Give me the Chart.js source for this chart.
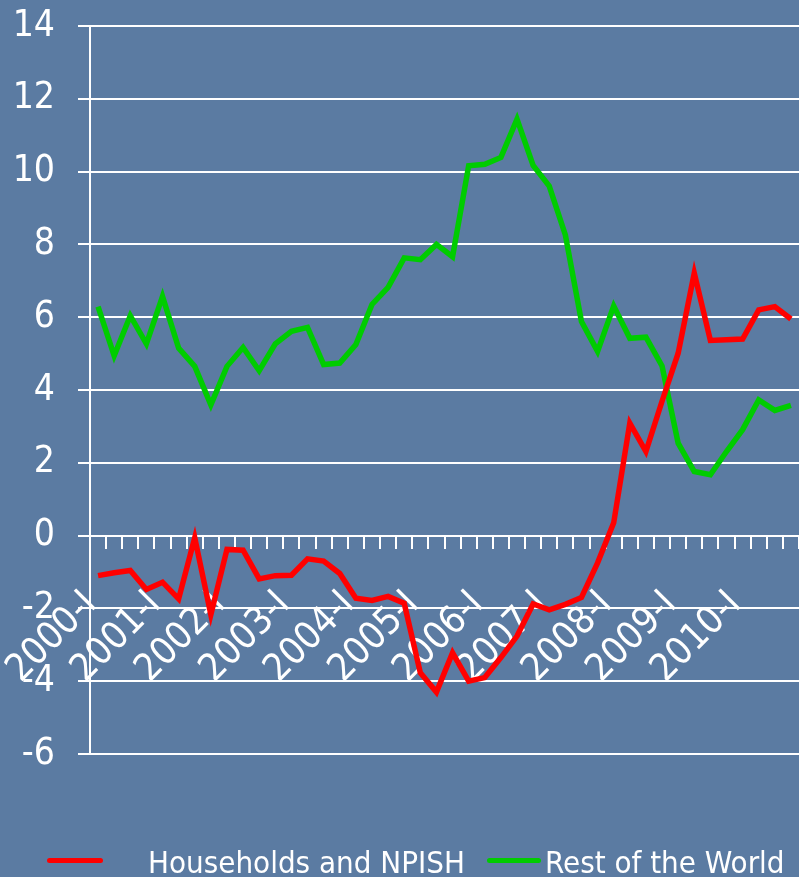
<!DOCTYPE html>
<html>
<head>
<meta charset="utf-8">
<script src="https://cdn.jsdelivr.net/npm/chart.js@4.4.0/dist/chart.umd.min.js"></script>
<style>
  html, body { margin: 0; padding: 0; }
  body {
    width: 799px; height: 877px; overflow: hidden; position: relative;
    background: #5b7ba2;
    font-family: "DejaVu Sans Condensed", "DejaVu Sans", sans-serif;
  }
  #chart { position: absolute; left: 0; top: 0; }
  .key { position: absolute; top: 858px; height: 5px; border-radius: 3px; }
  .keyText { position: absolute; top: 847px; color: #fff; font-size: 31px; line-height: 31px; white-space: nowrap; }
</style>
</head>
<body>
<canvas id="chart" width="799" height="877"></canvas>
<div id="legend"></div>
<script>
// Kategori: kuartal 2000-I .. 2010-IV
const years = ["2000", "2001", "2002", "2003", "2004", "2005", "2006", "2007", "2008", "2009", "2010"];
const quarterNames = ["I", "II", "III", "IV"];
const quarters = [];
years.forEach(y => quarterNames.forEach(q => quarters.push(y + "-" + q)));

// Data seri
const households = [
  -1.10, -1.02, -0.96, -1.48, -1.28, -1.74, -0.06, -2.17,
  -0.38, -0.40, -1.19, -1.10, -1.09, -0.64, -0.70, -1.04,
  -1.72, -1.78, -1.67, -1.86, -3.77, -4.30, -3.22, -4.00,
  -3.90, -3.35, -2.76, -1.88, -2.04, -1.89, -1.70, -0.75,
  0.35, 3.09, 2.31, 3.69, 5.01, 7.21, 5.36, 5.38,
  5.40, 6.20, 6.29, 5.95
];
const restOfWorld = [
  6.29, 4.94, 6.04, 5.27, 6.57, 5.15, 4.65, 3.59,
  4.65, 5.17, 4.53, 5.27, 5.61, 5.72, 4.70, 4.74,
  5.25, 6.35, 6.82, 7.63, 7.58, 8.00, 7.66, 10.16,
  10.20, 10.39, 11.44, 10.17, 9.60, 8.26, 5.88, 5.06,
  6.31, 5.42, 5.45, 4.66, 2.54, 1.76, 1.67, 2.31,
  2.91, 3.73, 3.44, 3.58
];
const seriesNames = ["Households and NPISH", "Rest of the World"];
const seriesColors = ["#ff0000", "#00cc00"];

// Sumbu Y
const yMin = -6;
const yMax = 14;
const yStep = 2;

const fontFamily = '"DejaVu Sans Condensed", "DejaVu Sans", sans-serif';

const ctx = document.getElementById("chart").getContext("2d");
const chart = new Chart(ctx, {
  type: "line",
  data: {
    labels: quarters,
    datasets: [
      {
        label: seriesNames[0],
        data: households,
        borderColor: seriesColors[0],
        backgroundColor: seriesColors[0],
        borderWidth: 5.5,
        pointRadius: 0,
        tension: 0,
      },
      {
        label: seriesNames[1],
        data: restOfWorld,
        borderColor: seriesColors[1],
        backgroundColor: seriesColors[1],
        borderWidth: 5.5,
        pointRadius: 0,
        tension: 0,
      },
    ],
  },
  options: {
    responsive: false,
    animation: false,
    layout: { padding: { top: 26, bottom: 123, left: 0, right: 0 } },
    plugins: {
      legend: { display: false },
      tooltip: { enabled: false },
    },
    scales: {
      x: {
        position: { y: 0 },
        offset: true,
        afterFit: function(scale) {
          // label miring jangan makan tempat area chart
          scale.paddingLeft = 0;
          scale.paddingRight = 0;
        },
        grid: {
          offset: true,
          drawOnChartArea: false,
          drawTicks: true,
          tickLength: 12,
          color: "#ffffff",
          lineWidth: 2,
        },
        border: { display: true, color: "#ffffff", width: 2 },
        ticks: {
          autoSkip: false,
          minRotation: 45,
          maxRotation: 45,
          padding: 35,
          labelOffset: -7,
          color: "#ffffff",
          font: { family: fontFamily, size: 38 },
          callback: function(val) {
            const lab = this.getLabelForValue(val);
            return lab.endsWith("-I") ? lab : "";
          },
        },
      },
      y: {
        min: yMin,
        max: yMax,
        afterFit: function(scale) {
          scale.width = 90;
          scale.paddingTop = 0;
          scale.paddingBottom = 0;
        },
        grid: {
          color: "#ffffff",
          lineWidth: 2,
          tickLength: 12,
        },
        border: { display: true, color: "#ffffff", width: 2 },
        ticks: {
          stepSize: yStep,
          padding: 23,
          color: "#ffffff",
          font: { family: fontFamily, size: 37 },
        },
      },
    },
  },
});

// Legenda (HTML)
const legendLine = [{ left: 47, width: 56 }, { left: 487, width: 54 }];
const legendText = [148, 545];
const legend = document.getElementById("legend");
seriesNames.forEach((name, i) => {
  const line = document.createElement("div");
  line.className = "key";
  line.style.left = legendLine[i].left + "px";
  line.style.width = legendLine[i].width + "px";
  line.style.background = seriesColors[i];
  legend.appendChild(line);
  const txt = document.createElement("div");
  txt.className = "keyText";
  txt.style.left = legendText[i] + "px";
  txt.textContent = name;
  legend.appendChild(txt);
});
</script>
</body>
</html>
